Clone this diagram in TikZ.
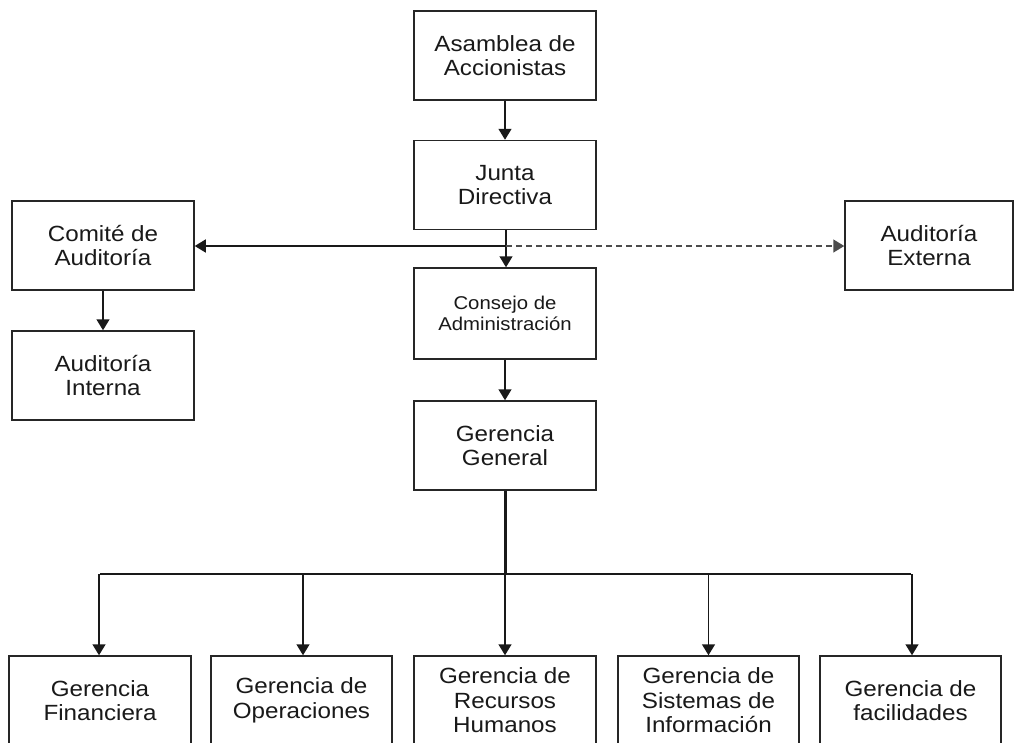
\documentclass[tikz,border=0pt]{standalone}
\usepackage{fontspec}
\setmainfont{Liberation Sans}[FakeStretch=1.1]
\usetikzlibrary{arrows.meta}
\tikzset{
  box/.style={draw=black!85, line width=1.5pt, rectangle, minimum width=182pt, minimum height=89pt,
    inner sep=0pt, align=center, text=black!90, font=\fontsize{22}{24.5}\selectfont},
  smallbox/.style={box, font=\fontsize{18.5}{21}\selectfont},
  tip/.tip={Triangle[width=13pt,length=11pt]},
  conn/.style={draw=black!90, line width=1.5pt, -tip},
  dconn/.style={draw=black!70, line width=1.5pt, dash pattern=on 6pt off 4pt, -tip},
  bus/.style={draw=black!90, line width=1.5pt},
  trunk/.style={draw=black!90, line width=3pt}
}
\begin{document}
\begin{tikzpicture}[x=1pt,y=-1pt]
\clip (0,0) rectangle (1014,742);
\fill[white] (0,0) rectangle (1014,742);
% top column
\node[box] (asam) at (505,55.5) {Asamblea de\\Accionistas};
\node[box] (junta) at (505,185) {Junta\\Directiva};
\node[smallbox, minimum height=91pt] (consejo) at (505,313.5) {Consejo de\\Administración};
\node[box] (gg) at (505,445.5) {Gerencia\\General};
% left and right
\node[box] (comite) at (103,245.5) {Comité de\\Auditoría};
\node[box] (interna) at (103,375.5) {Auditoría\\Interna};
\node[box, minimum width=168pt] (externa) at (929,245.5) {Auditoría\\Externa};
% bottom row
\node[box] (fin) at (100,700.5) {Gerencia\\Financiera};
\node[box, minimum width=181pt] (oper) at (301.5,700.5) {Gerencia de\\Operaciones};
\node[box] (rh) at (505,700.5) {Gerencia de\\Recursos\\Humanos};
\node[box, minimum width=181pt] (si) at (708.5,700.5) {Gerencia de\\Sistemas de\\Información};
\node[box, minimum width=181pt] (fac) at (910.5,700.5) {Gerencia de\\facilidades};
% coordinates
\coordinate (jn) at (506,246);
\coordinate (bc) at (505,574);
% connectors
\draw[conn] (asam.south) -- (junta.north);
\draw[conn] ([xshift=1pt]junta.south) -- ([xshift=1pt]consejo.north);
\draw[conn] (jn) -- (jn -| comite.east);
\draw[dconn] (jn) -- (jn -| externa.west);
\draw[conn] (consejo.south) -- (gg.north);
\draw[conn] (comite.south) -- (interna.north);
\draw[trunk] (gg.south) -- (bc);
\draw[bus] (bc -| fin.north) -- (bc -| fac.north);
\draw[conn] ([xshift=-1pt]bc -| fin.north) -- ([xshift=-1pt]fin.north);
\draw[conn] ([xshift=1.5pt]bc -| oper.north) -- ([xshift=1.5pt]oper.north);
\draw[conn] (bc) -- (rh.north);
\draw[conn] (bc -| si.north) -- (si.north);
\draw[conn] ([xshift=1.5pt]bc -| fac.north) -- ([xshift=1.5pt]fac.north);
\end{tikzpicture}
\end{document}
